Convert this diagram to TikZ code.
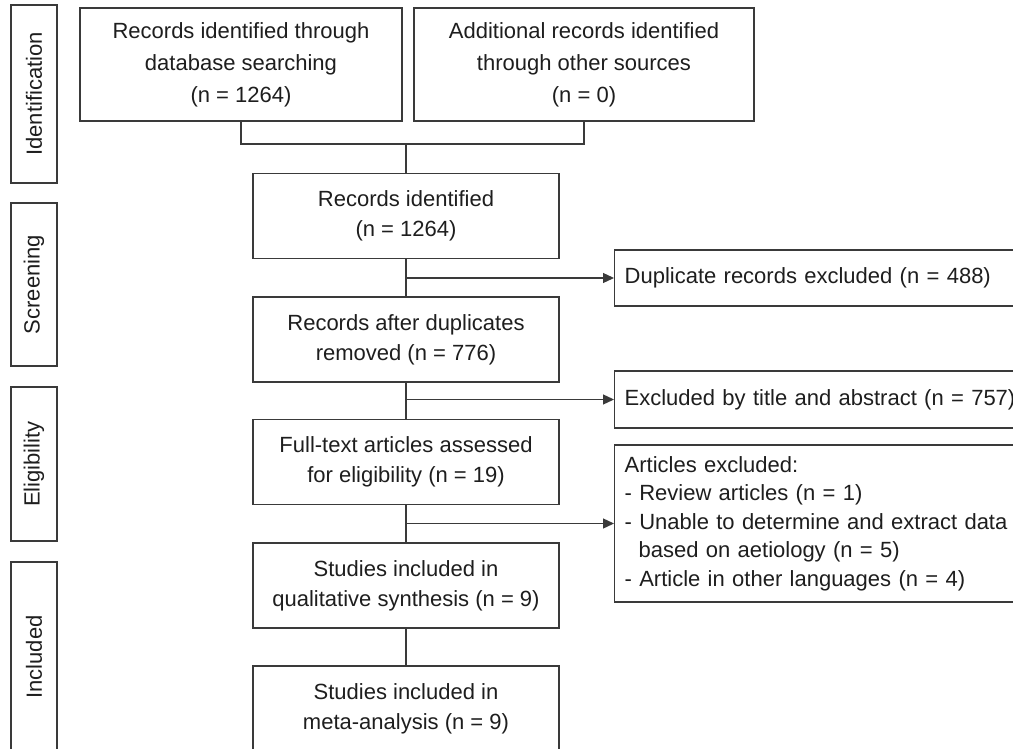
\documentclass[tikz,border=0pt]{standalone}
\usepackage{fontspec}
\setmainfont{Liberation Sans}
\usetikzlibrary{arrows.meta,calc}
\definecolor{ln}{HTML}{3A3A3A}
\definecolor{tx}{HTML}{1E1E1E}
\begin{document}
\begin{tikzpicture}[x=1pt,y=-1pt,
  box/.style={draw=ln, line width=1.3pt, minimum width=306pt, minimum height=85pt,
    align=center, font=\fontsize{22}{30}\selectfont, text=tx, inner sep=0pt},
  topbox/.style={box, minimum height=113pt, font=\fontsize{22}{32}\selectfont},
  sidebox/.style={draw=ln, line width=1.3pt, anchor=west, text width=400pt, inner xsep=10pt,
    inner ysep=0pt, align=left, font=\fontsize{22}{28.5}\selectfont, text=tx},
  stagebox/.style={draw=ln, line width=1.3pt, rotate=90, minimum height=46pt,
    font=\fontsize{22}{26}\selectfont, text=tx, inner sep=0pt},
  conn/.style={draw=ln, line width=1.3pt},
  arr/.style={conn, -{Triangle[length=11pt,width=10pt]}}]
\fill[white] (0,0) rectangle (1013,749);
\useasboundingbox (0,0) rectangle (1013,749);
\clip (0,0) rectangle (1013,749);

% stage labels
\node[stagebox, minimum width=178pt] (sid) at (34,94) {Identification};
\node[stagebox, minimum width=163pt] (ssc) at (34,284.5) {Screening};
\node[stagebox, minimum width=154pt] (sel) at (34,464) {Eligibility};
\node[stagebox, minimum width=190pt] (sin) at (34,657) {Included};

% top boxes
\node[topbox, minimum width=322pt] (tl) at (241,64.5) {Records identified through\\database searching\\(n = 1264)};
\node[topbox, minimum width=340pt] (tr) at (584,64.5) {Additional records identified\\through other sources\\(n = 0)};
\coordinate (j) at (406,144);

% main column
\node[box] (rid) at (406,216) {Records identified\\(n = 1264)};
\node[box] (rad) at (406,339.5) {Records after duplicates\\removed (n = 776)};
\node[box] (fta) at (406,462) {Full-text articles assessed\\for eligibility (n = 19)};
\node[box] (sqs) at (406,585.5) {Studies included in\\qualitative synthesis (n = 9)};
\node[box] (sma) at (406,708.5) {Studies included in\\meta-analysis (n = 9)};

% side boxes
\node[sidebox, minimum height=56pt] (dup) at (614,278) {Duplicate records excluded (n = 488)};
\node[sidebox, minimum height=57pt] (exc) at (614,399.5) {Excluded by title and abstract (n = 757)};
\node[sidebox, minimum height=157pt] (art) at (614,523.5) {Articles excluded:\\- Review articles (n = 1)\\- Unable to determine and extract data\\\hspace*{14pt}based on aetiology (n = 5)\\- Article in other languages (n = 4)};

% connectors
\draw[conn] (tl.south) |- (j) -| (tr.south);
\draw[conn] (j) -- (rid.north);
\draw[conn] (rid) -- (rad);
\draw[conn] (rad) -- (fta);
\draw[conn] (fta) -- (sqs);
\draw[conn] (sqs) -- (sma);
\draw[arr] (rid.south |- dup.west) -- (dup.west);
\draw[arr] (rad.south |- exc.west) -- (exc.west);
\draw[arr] (fta.south |- art.west) -- (art.west);
\end{tikzpicture}
\end{document}
